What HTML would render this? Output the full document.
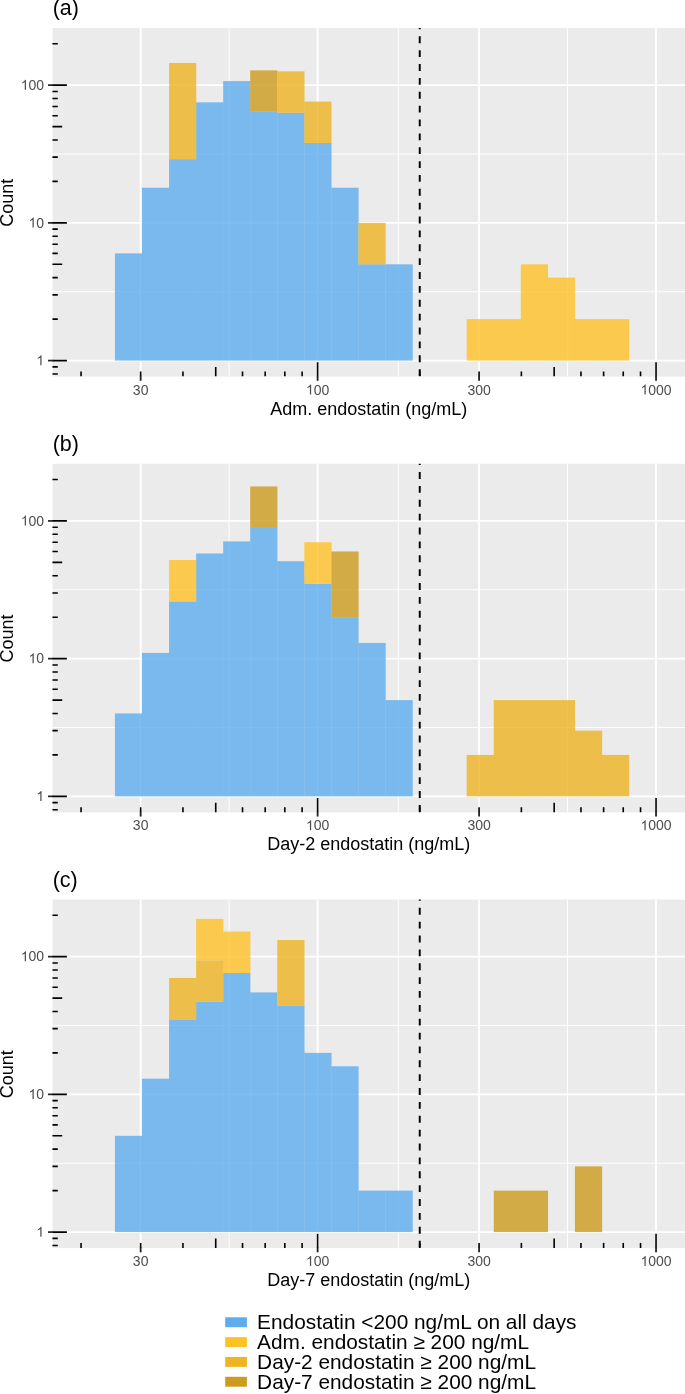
<!DOCTYPE html>
<html><head><meta charset="utf-8"><title>Endostatin histograms</title>
<style>html,body{margin:0;padding:0;background:#fff}body{width:685px;height:1394px;overflow:hidden;font-family:"Liberation Sans",sans-serif}</style>
</head><body>
<svg width="685" height="1394" viewBox="0 0 685 1394" style="display:block;will-change:transform;font-family:'Liberation Sans',sans-serif">
<rect width="685" height="1394" fill="#fff"/>
<defs>
<clipPath id="c0"><rect x="52.2" y="28.00" width="632.8" height="348.60"/></clipPath>
<clipPath id="c1"><rect x="52.2" y="463.78" width="632.8" height="348.60"/></clipPath>
<clipPath id="c2"><rect x="52.2" y="899.50" width="632.8" height="348.60"/></clipPath>
</defs>
<rect x="52.6" y="28.00" width="632.4" height="348.60" fill="#EBEBEB"/>
<g clip-path="url(#c0)">
<line x1="52.6" x2="685.0" y1="291.72" y2="291.72" stroke="#fff" stroke-width="0.95"/>
<line x1="52.6" x2="685.0" y1="154.00" y2="154.00" stroke="#fff" stroke-width="0.95"/>
<line y1="28.00" y2="376.60" x1="229.13" x2="229.13" stroke="#fff" stroke-width="0.95"/>
<line y1="28.00" y2="376.60" x1="398.35" x2="398.35" stroke="#fff" stroke-width="0.95"/>
<line y1="28.00" y2="376.60" x1="567.56" x2="567.56" stroke="#fff" stroke-width="0.95"/>
<line x1="52.6" x2="685.0" y1="360.58" y2="360.58" stroke="#fff" stroke-width="1.8"/>
<line x1="52.6" x2="685.0" y1="222.86" y2="222.86" stroke="#fff" stroke-width="1.8"/>
<line x1="52.6" x2="685.0" y1="85.14" y2="85.14" stroke="#fff" stroke-width="1.8"/>
<line y1="28.00" y2="376.60" x1="140.65" x2="140.65" stroke="#fff" stroke-width="1.8"/>
<line y1="28.00" y2="376.60" x1="317.61" x2="317.61" stroke="#fff" stroke-width="1.8"/>
<line y1="28.00" y2="376.60" x1="479.08" x2="479.08" stroke="#fff" stroke-width="1.8"/>
<line y1="28.00" y2="376.60" x1="656.04" x2="656.04" stroke="#fff" stroke-width="1.8"/>
<rect x="114.92" y="253.41" width="27.22" height="107.17" fill="#5CACEE" fill-opacity="0.8"/>
<rect x="141.98" y="187.70" width="27.22" height="172.88" fill="#5CACEE" fill-opacity="0.8"/>
<rect x="169.04" y="159.18" width="27.22" height="201.40" fill="#5CACEE" fill-opacity="0.8"/>
<rect x="196.10" y="102.35" width="27.22" height="258.23" fill="#5CACEE" fill-opacity="0.8"/>
<rect x="223.16" y="81.09" width="27.22" height="279.49" fill="#5CACEE" fill-opacity="0.8"/>
<rect x="250.22" y="111.83" width="27.22" height="248.75" fill="#5CACEE" fill-opacity="0.8"/>
<rect x="277.28" y="112.77" width="27.22" height="247.81" fill="#5CACEE" fill-opacity="0.8"/>
<rect x="304.34" y="143.01" width="27.22" height="217.57" fill="#5CACEE" fill-opacity="0.8"/>
<rect x="331.40" y="187.70" width="27.22" height="172.88" fill="#5CACEE" fill-opacity="0.8"/>
<rect x="358.46" y="264.32" width="27.22" height="96.26" fill="#5CACEE" fill-opacity="0.8"/>
<rect x="385.52" y="264.32" width="27.22" height="96.26" fill="#5CACEE" fill-opacity="0.8"/>
<rect x="169.04" y="62.92" width="27.22" height="96.26" fill="#EEB422" fill-opacity="0.8"/>
<rect x="250.22" y="70.38" width="27.22" height="41.46" fill="#CD9B1D" fill-opacity="0.8"/>
<rect x="277.28" y="71.32" width="27.22" height="41.46" fill="#EEB422" fill-opacity="0.8"/>
<rect x="304.34" y="101.55" width="27.22" height="41.46" fill="#EEB422" fill-opacity="0.8"/>
<rect x="358.46" y="222.86" width="27.22" height="41.46" fill="#EEB422" fill-opacity="0.8"/>
<rect x="466.70" y="319.12" width="27.22" height="41.46" fill="#FFC125" fill-opacity="0.8"/>
<rect x="493.76" y="319.12" width="27.22" height="41.46" fill="#FFC125" fill-opacity="0.8"/>
<rect x="520.82" y="264.32" width="27.22" height="96.26" fill="#FFC125" fill-opacity="0.8"/>
<rect x="547.88" y="277.66" width="27.22" height="82.92" fill="#FFC125" fill-opacity="0.8"/>
<rect x="574.94" y="319.12" width="27.22" height="41.46" fill="#FFC125" fill-opacity="0.8"/>
<rect x="602.00" y="319.12" width="27.22" height="41.46" fill="#FFC125" fill-opacity="0.8"/>
<line x1="419.74" x2="419.74" y1="22.43" y2="378.60" stroke="#000" stroke-width="1.95" stroke-dasharray="6.85 7.02"/>
<line x1="52.300000000000004" x2="57.80" y1="373.93" y2="373.93" stroke="#000" stroke-width="1.6"/>
<line x1="52.300000000000004" x2="57.80" y1="366.88" y2="366.88" stroke="#000" stroke-width="1.6"/>
<line x1="52.300000000000004" x2="66.90" y1="360.58" y2="360.58" stroke="#000" stroke-width="1.6"/>
<line x1="52.300000000000004" x2="57.80" y1="319.12" y2="319.12" stroke="#000" stroke-width="1.6"/>
<line x1="52.300000000000004" x2="57.80" y1="294.87" y2="294.87" stroke="#000" stroke-width="1.6"/>
<line x1="52.300000000000004" x2="57.80" y1="277.66" y2="277.66" stroke="#000" stroke-width="1.6"/>
<line x1="52.300000000000004" x2="62.20" y1="264.32" y2="264.32" stroke="#000" stroke-width="1.6"/>
<line x1="52.300000000000004" x2="57.80" y1="253.41" y2="253.41" stroke="#000" stroke-width="1.6"/>
<line x1="52.300000000000004" x2="57.80" y1="244.19" y2="244.19" stroke="#000" stroke-width="1.6"/>
<line x1="52.300000000000004" x2="57.80" y1="236.21" y2="236.21" stroke="#000" stroke-width="1.6"/>
<line x1="52.300000000000004" x2="57.80" y1="229.16" y2="229.16" stroke="#000" stroke-width="1.6"/>
<line x1="52.300000000000004" x2="66.90" y1="222.86" y2="222.86" stroke="#000" stroke-width="1.6"/>
<line x1="52.300000000000004" x2="57.80" y1="181.40" y2="181.40" stroke="#000" stroke-width="1.6"/>
<line x1="52.300000000000004" x2="57.80" y1="157.15" y2="157.15" stroke="#000" stroke-width="1.6"/>
<line x1="52.300000000000004" x2="57.80" y1="139.94" y2="139.94" stroke="#000" stroke-width="1.6"/>
<line x1="52.300000000000004" x2="62.20" y1="126.60" y2="126.60" stroke="#000" stroke-width="1.6"/>
<line x1="52.300000000000004" x2="57.80" y1="115.69" y2="115.69" stroke="#000" stroke-width="1.6"/>
<line x1="52.300000000000004" x2="57.80" y1="106.47" y2="106.47" stroke="#000" stroke-width="1.6"/>
<line x1="52.300000000000004" x2="57.80" y1="98.49" y2="98.49" stroke="#000" stroke-width="1.6"/>
<line x1="52.300000000000004" x2="57.80" y1="91.44" y2="91.44" stroke="#000" stroke-width="1.6"/>
<line x1="52.300000000000004" x2="66.90" y1="85.14" y2="85.14" stroke="#000" stroke-width="1.6"/>
<line x1="52.300000000000004" x2="57.80" y1="43.68" y2="43.68" stroke="#000" stroke-width="1.6"/>
<line y1="376.60" y2="371.40" x1="81.06" x2="81.06" stroke="#000" stroke-width="1.6"/>
<line y1="376.60" y2="371.40" x1="140.65" x2="140.65" stroke="#000" stroke-width="1.6"/>
<line y1="376.60" y2="371.40" x1="182.94" x2="182.94" stroke="#000" stroke-width="1.6"/>
<line y1="376.60" y2="367.00" x1="215.73" x2="215.73" stroke="#000" stroke-width="1.6"/>
<line y1="376.60" y2="371.40" x1="242.53" x2="242.53" stroke="#000" stroke-width="1.6"/>
<line y1="376.60" y2="371.40" x1="265.19" x2="265.19" stroke="#000" stroke-width="1.6"/>
<line y1="376.60" y2="371.40" x1="284.81" x2="284.81" stroke="#000" stroke-width="1.6"/>
<line y1="376.60" y2="371.40" x1="302.12" x2="302.12" stroke="#000" stroke-width="1.6"/>
<line y1="376.60" y2="362.30" x1="317.61" x2="317.61" stroke="#000" stroke-width="1.6"/>
<line y1="376.60" y2="371.40" x1="419.74" x2="419.74" stroke="#000" stroke-width="1.6"/>
<line y1="376.60" y2="371.40" x1="479.08" x2="479.08" stroke="#000" stroke-width="1.6"/>
<line y1="376.60" y2="371.40" x1="521.37" x2="521.37" stroke="#000" stroke-width="1.6"/>
<line y1="376.60" y2="367.00" x1="554.16" x2="554.16" stroke="#000" stroke-width="1.6"/>
<line y1="376.60" y2="371.40" x1="580.96" x2="580.96" stroke="#000" stroke-width="1.6"/>
<line y1="376.60" y2="371.40" x1="603.62" x2="603.62" stroke="#000" stroke-width="1.6"/>
<line y1="376.60" y2="371.40" x1="623.24" x2="623.24" stroke="#000" stroke-width="1.6"/>
<line y1="376.60" y2="371.40" x1="640.55" x2="640.55" stroke="#000" stroke-width="1.6"/>
<line y1="376.60" y2="362.30" x1="656.04" x2="656.04" stroke="#000" stroke-width="1.6"/>
</g>
<line x1="48.0" x2="53.2" y1="360.58" y2="360.58" stroke="#222" stroke-width="1.7"/>
<path transform="translate(36.31 365.28) scale(0.00684 -0.00684)" d="M763 0H583V1147Q518 1085 412.5 1023Q307 961 223 930V1104Q374 1175 487 1276Q600 1377 647 1472H763Z" fill="#4D4D4D"/>
<line x1="48.0" x2="53.2" y1="222.86" y2="222.86" stroke="#222" stroke-width="1.7"/>
<path transform="translate(28.53 227.56) scale(0.00684 -0.00684)" d="M763 0H583V1147Q518 1085 412.5 1023Q307 961 223 930V1104Q374 1175 487 1276Q600 1377 647 1472H763Z" fill="#4D4D4D"/><text x="36.31" y="227.56" font-size="14.0" fill="#4D4D4D">0</text>
<line x1="48.0" x2="53.2" y1="85.14" y2="85.14" stroke="#222" stroke-width="1.7"/>
<path transform="translate(20.74 89.84) scale(0.00684 -0.00684)" d="M763 0H583V1147Q518 1085 412.5 1023Q307 961 223 930V1104Q374 1175 487 1276Q600 1377 647 1472H763Z" fill="#4D4D4D"/><text x="28.53" y="89.84" font-size="14.0" fill="#4D4D4D">0</text><text x="36.31" y="89.84" font-size="14.0" fill="#4D4D4D">0</text>
<line y1="376.00" y2="380.80" x1="140.65" x2="140.65" stroke="#222" stroke-width="1.8"/>
<text x="132.87" y="394.55" font-size="14.0" fill="#4D4D4D">3</text><text x="140.65" y="394.55" font-size="14.0" fill="#4D4D4D">0</text>
<line y1="376.00" y2="380.80" x1="317.61" x2="317.61" stroke="#222" stroke-width="1.8"/>
<path transform="translate(305.93 394.55) scale(0.00684 -0.00684)" d="M763 0H583V1147Q518 1085 412.5 1023Q307 961 223 930V1104Q374 1175 487 1276Q600 1377 647 1472H763Z" fill="#4D4D4D"/><text x="313.72" y="394.55" font-size="14.0" fill="#4D4D4D">0</text><text x="321.50" y="394.55" font-size="14.0" fill="#4D4D4D">0</text>
<line y1="376.00" y2="380.80" x1="479.08" x2="479.08" stroke="#222" stroke-width="1.8"/>
<text x="467.40" y="394.55" font-size="14.0" fill="#4D4D4D">3</text><text x="475.19" y="394.55" font-size="14.0" fill="#4D4D4D">0</text><text x="482.98" y="394.55" font-size="14.0" fill="#4D4D4D">0</text>
<line y1="376.00" y2="380.80" x1="656.04" x2="656.04" stroke="#222" stroke-width="1.8"/>
<path transform="translate(640.47 394.55) scale(0.00684 -0.00684)" d="M763 0H583V1147Q518 1085 412.5 1023Q307 961 223 930V1104Q374 1175 487 1276Q600 1377 647 1472H763Z" fill="#4D4D4D"/><text x="648.25" y="394.55" font-size="14.0" fill="#4D4D4D">0</text><text x="656.04" y="394.55" font-size="14.0" fill="#4D4D4D">0</text><text x="663.83" y="394.55" font-size="14.0" fill="#4D4D4D">0</text>
<text x="368.80" y="414.50" font-size="18.0" fill="#000" text-anchor="middle">Adm. endostatin (ng/mL)</text>
<text transform="translate(13.1 202.75) rotate(-90)" font-size="18.0" fill="#000" text-anchor="middle">Count</text>
<text x="52.7" y="15.25" font-size="21.5" fill="#000">(a)</text>
<rect x="52.6" y="463.78" width="632.4" height="348.60" fill="#EBEBEB"/>
<g clip-path="url(#c1)">
<line x1="52.6" x2="685.0" y1="727.50" y2="727.50" stroke="#fff" stroke-width="0.95"/>
<line x1="52.6" x2="685.0" y1="589.78" y2="589.78" stroke="#fff" stroke-width="0.95"/>
<line y1="463.78" y2="812.38" x1="229.13" x2="229.13" stroke="#fff" stroke-width="0.95"/>
<line y1="463.78" y2="812.38" x1="398.35" x2="398.35" stroke="#fff" stroke-width="0.95"/>
<line y1="463.78" y2="812.38" x1="567.56" x2="567.56" stroke="#fff" stroke-width="0.95"/>
<line x1="52.6" x2="685.0" y1="796.36" y2="796.36" stroke="#fff" stroke-width="1.8"/>
<line x1="52.6" x2="685.0" y1="658.64" y2="658.64" stroke="#fff" stroke-width="1.8"/>
<line x1="52.6" x2="685.0" y1="520.92" y2="520.92" stroke="#fff" stroke-width="1.8"/>
<line y1="463.78" y2="812.38" x1="140.65" x2="140.65" stroke="#fff" stroke-width="1.8"/>
<line y1="463.78" y2="812.38" x1="317.61" x2="317.61" stroke="#fff" stroke-width="1.8"/>
<line y1="463.78" y2="812.38" x1="479.08" x2="479.08" stroke="#fff" stroke-width="1.8"/>
<line y1="463.78" y2="812.38" x1="656.04" x2="656.04" stroke="#fff" stroke-width="1.8"/>
<rect x="114.92" y="713.44" width="27.22" height="82.92" fill="#5CACEE" fill-opacity="0.8"/>
<rect x="141.98" y="652.94" width="27.22" height="143.42" fill="#5CACEE" fill-opacity="0.8"/>
<rect x="169.04" y="601.49" width="27.22" height="194.87" fill="#5CACEE" fill-opacity="0.8"/>
<rect x="196.10" y="553.50" width="27.22" height="242.86" fill="#5CACEE" fill-opacity="0.8"/>
<rect x="223.16" y="541.40" width="27.22" height="254.96" fill="#5CACEE" fill-opacity="0.8"/>
<rect x="250.22" y="527.89" width="27.22" height="268.47" fill="#5CACEE" fill-opacity="0.8"/>
<rect x="277.28" y="561.19" width="27.22" height="235.17" fill="#5CACEE" fill-opacity="0.8"/>
<rect x="304.34" y="583.71" width="27.22" height="212.65" fill="#5CACEE" fill-opacity="0.8"/>
<rect x="331.40" y="617.18" width="27.22" height="179.18" fill="#5CACEE" fill-opacity="0.8"/>
<rect x="358.46" y="642.95" width="27.22" height="153.41" fill="#5CACEE" fill-opacity="0.8"/>
<rect x="385.52" y="700.10" width="27.22" height="96.26" fill="#5CACEE" fill-opacity="0.8"/>
<rect x="169.04" y="560.03" width="27.22" height="41.46" fill="#FFC125" fill-opacity="0.8"/>
<rect x="250.22" y="486.43" width="27.22" height="41.46" fill="#CD9B1D" fill-opacity="0.8"/>
<rect x="304.34" y="542.25" width="27.22" height="41.46" fill="#FFC125" fill-opacity="0.8"/>
<rect x="331.40" y="551.47" width="27.22" height="65.71" fill="#CD9B1D" fill-opacity="0.8"/>
<rect x="466.70" y="754.90" width="27.22" height="41.46" fill="#EEB422" fill-opacity="0.8"/>
<rect x="493.76" y="700.10" width="27.22" height="96.26" fill="#EEB422" fill-opacity="0.8"/>
<rect x="520.82" y="700.10" width="27.22" height="96.26" fill="#EEB422" fill-opacity="0.8"/>
<rect x="547.88" y="700.10" width="27.22" height="96.26" fill="#EEB422" fill-opacity="0.8"/>
<rect x="574.94" y="730.65" width="27.22" height="65.71" fill="#EEB422" fill-opacity="0.8"/>
<rect x="602.00" y="754.90" width="27.22" height="41.46" fill="#EEB422" fill-opacity="0.8"/>
<line x1="419.74" x2="419.74" y1="458.21" y2="814.38" stroke="#000" stroke-width="1.95" stroke-dasharray="6.85 7.02"/>
<line x1="52.300000000000004" x2="57.80" y1="809.71" y2="809.71" stroke="#000" stroke-width="1.6"/>
<line x1="52.300000000000004" x2="57.80" y1="802.66" y2="802.66" stroke="#000" stroke-width="1.6"/>
<line x1="52.300000000000004" x2="66.90" y1="796.36" y2="796.36" stroke="#000" stroke-width="1.6"/>
<line x1="52.300000000000004" x2="57.80" y1="754.90" y2="754.90" stroke="#000" stroke-width="1.6"/>
<line x1="52.300000000000004" x2="57.80" y1="730.65" y2="730.65" stroke="#000" stroke-width="1.6"/>
<line x1="52.300000000000004" x2="57.80" y1="713.44" y2="713.44" stroke="#000" stroke-width="1.6"/>
<line x1="52.300000000000004" x2="62.20" y1="700.10" y2="700.10" stroke="#000" stroke-width="1.6"/>
<line x1="52.300000000000004" x2="57.80" y1="689.19" y2="689.19" stroke="#000" stroke-width="1.6"/>
<line x1="52.300000000000004" x2="57.80" y1="679.97" y2="679.97" stroke="#000" stroke-width="1.6"/>
<line x1="52.300000000000004" x2="57.80" y1="671.99" y2="671.99" stroke="#000" stroke-width="1.6"/>
<line x1="52.300000000000004" x2="57.80" y1="664.94" y2="664.94" stroke="#000" stroke-width="1.6"/>
<line x1="52.300000000000004" x2="66.90" y1="658.64" y2="658.64" stroke="#000" stroke-width="1.6"/>
<line x1="52.300000000000004" x2="57.80" y1="617.18" y2="617.18" stroke="#000" stroke-width="1.6"/>
<line x1="52.300000000000004" x2="57.80" y1="592.93" y2="592.93" stroke="#000" stroke-width="1.6"/>
<line x1="52.300000000000004" x2="57.80" y1="575.72" y2="575.72" stroke="#000" stroke-width="1.6"/>
<line x1="52.300000000000004" x2="62.20" y1="562.38" y2="562.38" stroke="#000" stroke-width="1.6"/>
<line x1="52.300000000000004" x2="57.80" y1="551.47" y2="551.47" stroke="#000" stroke-width="1.6"/>
<line x1="52.300000000000004" x2="57.80" y1="542.25" y2="542.25" stroke="#000" stroke-width="1.6"/>
<line x1="52.300000000000004" x2="57.80" y1="534.27" y2="534.27" stroke="#000" stroke-width="1.6"/>
<line x1="52.300000000000004" x2="57.80" y1="527.22" y2="527.22" stroke="#000" stroke-width="1.6"/>
<line x1="52.300000000000004" x2="66.90" y1="520.92" y2="520.92" stroke="#000" stroke-width="1.6"/>
<line x1="52.300000000000004" x2="57.80" y1="479.46" y2="479.46" stroke="#000" stroke-width="1.6"/>
<line y1="812.38" y2="807.18" x1="81.06" x2="81.06" stroke="#000" stroke-width="1.6"/>
<line y1="812.38" y2="807.18" x1="140.65" x2="140.65" stroke="#000" stroke-width="1.6"/>
<line y1="812.38" y2="807.18" x1="182.94" x2="182.94" stroke="#000" stroke-width="1.6"/>
<line y1="812.38" y2="802.78" x1="215.73" x2="215.73" stroke="#000" stroke-width="1.6"/>
<line y1="812.38" y2="807.18" x1="242.53" x2="242.53" stroke="#000" stroke-width="1.6"/>
<line y1="812.38" y2="807.18" x1="265.19" x2="265.19" stroke="#000" stroke-width="1.6"/>
<line y1="812.38" y2="807.18" x1="284.81" x2="284.81" stroke="#000" stroke-width="1.6"/>
<line y1="812.38" y2="807.18" x1="302.12" x2="302.12" stroke="#000" stroke-width="1.6"/>
<line y1="812.38" y2="798.08" x1="317.61" x2="317.61" stroke="#000" stroke-width="1.6"/>
<line y1="812.38" y2="807.18" x1="419.74" x2="419.74" stroke="#000" stroke-width="1.6"/>
<line y1="812.38" y2="807.18" x1="479.08" x2="479.08" stroke="#000" stroke-width="1.6"/>
<line y1="812.38" y2="807.18" x1="521.37" x2="521.37" stroke="#000" stroke-width="1.6"/>
<line y1="812.38" y2="802.78" x1="554.16" x2="554.16" stroke="#000" stroke-width="1.6"/>
<line y1="812.38" y2="807.18" x1="580.96" x2="580.96" stroke="#000" stroke-width="1.6"/>
<line y1="812.38" y2="807.18" x1="603.62" x2="603.62" stroke="#000" stroke-width="1.6"/>
<line y1="812.38" y2="807.18" x1="623.24" x2="623.24" stroke="#000" stroke-width="1.6"/>
<line y1="812.38" y2="807.18" x1="640.55" x2="640.55" stroke="#000" stroke-width="1.6"/>
<line y1="812.38" y2="798.08" x1="656.04" x2="656.04" stroke="#000" stroke-width="1.6"/>
</g>
<line x1="48.0" x2="53.2" y1="796.36" y2="796.36" stroke="#222" stroke-width="1.7"/>
<path transform="translate(36.31 801.06) scale(0.00684 -0.00684)" d="M763 0H583V1147Q518 1085 412.5 1023Q307 961 223 930V1104Q374 1175 487 1276Q600 1377 647 1472H763Z" fill="#4D4D4D"/>
<line x1="48.0" x2="53.2" y1="658.64" y2="658.64" stroke="#222" stroke-width="1.7"/>
<path transform="translate(28.53 663.34) scale(0.00684 -0.00684)" d="M763 0H583V1147Q518 1085 412.5 1023Q307 961 223 930V1104Q374 1175 487 1276Q600 1377 647 1472H763Z" fill="#4D4D4D"/><text x="36.31" y="663.34" font-size="14.0" fill="#4D4D4D">0</text>
<line x1="48.0" x2="53.2" y1="520.92" y2="520.92" stroke="#222" stroke-width="1.7"/>
<path transform="translate(20.74 525.62) scale(0.00684 -0.00684)" d="M763 0H583V1147Q518 1085 412.5 1023Q307 961 223 930V1104Q374 1175 487 1276Q600 1377 647 1472H763Z" fill="#4D4D4D"/><text x="28.53" y="525.62" font-size="14.0" fill="#4D4D4D">0</text><text x="36.31" y="525.62" font-size="14.0" fill="#4D4D4D">0</text>
<line y1="811.78" y2="816.58" x1="140.65" x2="140.65" stroke="#222" stroke-width="1.8"/>
<text x="132.87" y="830.33" font-size="14.0" fill="#4D4D4D">3</text><text x="140.65" y="830.33" font-size="14.0" fill="#4D4D4D">0</text>
<line y1="811.78" y2="816.58" x1="317.61" x2="317.61" stroke="#222" stroke-width="1.8"/>
<path transform="translate(305.93 830.33) scale(0.00684 -0.00684)" d="M763 0H583V1147Q518 1085 412.5 1023Q307 961 223 930V1104Q374 1175 487 1276Q600 1377 647 1472H763Z" fill="#4D4D4D"/><text x="313.72" y="830.33" font-size="14.0" fill="#4D4D4D">0</text><text x="321.50" y="830.33" font-size="14.0" fill="#4D4D4D">0</text>
<line y1="811.78" y2="816.58" x1="479.08" x2="479.08" stroke="#222" stroke-width="1.8"/>
<text x="467.40" y="830.33" font-size="14.0" fill="#4D4D4D">3</text><text x="475.19" y="830.33" font-size="14.0" fill="#4D4D4D">0</text><text x="482.98" y="830.33" font-size="14.0" fill="#4D4D4D">0</text>
<line y1="811.78" y2="816.58" x1="656.04" x2="656.04" stroke="#222" stroke-width="1.8"/>
<path transform="translate(640.47 830.33) scale(0.00684 -0.00684)" d="M763 0H583V1147Q518 1085 412.5 1023Q307 961 223 930V1104Q374 1175 487 1276Q600 1377 647 1472H763Z" fill="#4D4D4D"/><text x="648.25" y="830.33" font-size="14.0" fill="#4D4D4D">0</text><text x="656.04" y="830.33" font-size="14.0" fill="#4D4D4D">0</text><text x="663.83" y="830.33" font-size="14.0" fill="#4D4D4D">0</text>
<text x="368.80" y="850.28" font-size="18.0" fill="#000" text-anchor="middle">Day-2 endostatin (ng/mL)</text>
<text transform="translate(13.1 638.53) rotate(-90)" font-size="18.0" fill="#000" text-anchor="middle">Count</text>
<text x="52.7" y="451.03" font-size="21.5" fill="#000">(b)</text>
<rect x="52.6" y="899.50" width="632.4" height="348.60" fill="#EBEBEB"/>
<g clip-path="url(#c2)">
<line x1="52.6" x2="685.0" y1="1163.22" y2="1163.22" stroke="#fff" stroke-width="0.95"/>
<line x1="52.6" x2="685.0" y1="1025.50" y2="1025.50" stroke="#fff" stroke-width="0.95"/>
<line y1="899.50" y2="1248.10" x1="229.13" x2="229.13" stroke="#fff" stroke-width="0.95"/>
<line y1="899.50" y2="1248.10" x1="398.35" x2="398.35" stroke="#fff" stroke-width="0.95"/>
<line y1="899.50" y2="1248.10" x1="567.56" x2="567.56" stroke="#fff" stroke-width="0.95"/>
<line x1="52.6" x2="685.0" y1="1232.08" y2="1232.08" stroke="#fff" stroke-width="1.8"/>
<line x1="52.6" x2="685.0" y1="1094.36" y2="1094.36" stroke="#fff" stroke-width="1.8"/>
<line x1="52.6" x2="685.0" y1="956.64" y2="956.64" stroke="#fff" stroke-width="1.8"/>
<line y1="899.50" y2="1248.10" x1="140.65" x2="140.65" stroke="#fff" stroke-width="1.8"/>
<line y1="899.50" y2="1248.10" x1="317.61" x2="317.61" stroke="#fff" stroke-width="1.8"/>
<line y1="899.50" y2="1248.10" x1="479.08" x2="479.08" stroke="#fff" stroke-width="1.8"/>
<line y1="899.50" y2="1248.10" x1="656.04" x2="656.04" stroke="#fff" stroke-width="1.8"/>
<rect x="114.92" y="1135.82" width="27.22" height="96.26" fill="#5CACEE" fill-opacity="0.8"/>
<rect x="141.98" y="1078.67" width="27.22" height="153.41" fill="#5CACEE" fill-opacity="0.8"/>
<rect x="169.04" y="1019.43" width="27.22" height="212.65" fill="#5CACEE" fill-opacity="0.8"/>
<rect x="196.10" y="1001.80" width="27.22" height="230.28" fill="#5CACEE" fill-opacity="0.8"/>
<rect x="223.16" y="973.05" width="27.22" height="259.03" fill="#5CACEE" fill-opacity="0.8"/>
<rect x="250.22" y="992.40" width="27.22" height="239.68" fill="#5CACEE" fill-opacity="0.8"/>
<rect x="277.28" y="1005.74" width="27.22" height="226.34" fill="#5CACEE" fill-opacity="0.8"/>
<rect x="304.34" y="1052.90" width="27.22" height="179.18" fill="#5CACEE" fill-opacity="0.8"/>
<rect x="331.40" y="1066.25" width="27.22" height="165.83" fill="#5CACEE" fill-opacity="0.8"/>
<rect x="358.46" y="1190.62" width="27.22" height="41.46" fill="#5CACEE" fill-opacity="0.8"/>
<rect x="385.52" y="1190.62" width="27.22" height="41.46" fill="#5CACEE" fill-opacity="0.8"/>
<rect x="169.04" y="977.97" width="27.22" height="41.46" fill="#EEB422" fill-opacity="0.8"/>
<rect x="196.10" y="960.34" width="27.22" height="41.46" fill="#EEB422" fill-opacity="0.8"/>
<rect x="196.10" y="918.88" width="27.22" height="41.46" fill="#FFC125" fill-opacity="0.8"/>
<rect x="223.16" y="931.60" width="27.22" height="41.46" fill="#FFC125" fill-opacity="0.8"/>
<rect x="277.28" y="940.03" width="27.22" height="65.71" fill="#EEB422" fill-opacity="0.8"/>
<rect x="493.76" y="1190.62" width="27.22" height="41.46" fill="#CD9B1D" fill-opacity="0.8"/>
<rect x="520.82" y="1190.62" width="27.22" height="41.46" fill="#CD9B1D" fill-opacity="0.8"/>
<rect x="574.94" y="1166.37" width="27.22" height="65.71" fill="#CD9B1D" fill-opacity="0.8"/>
<line x1="419.74" x2="419.74" y1="893.93" y2="1250.10" stroke="#000" stroke-width="1.95" stroke-dasharray="6.85 7.02"/>
<line x1="52.300000000000004" x2="57.80" y1="1245.43" y2="1245.43" stroke="#000" stroke-width="1.6"/>
<line x1="52.300000000000004" x2="57.80" y1="1238.38" y2="1238.38" stroke="#000" stroke-width="1.6"/>
<line x1="52.300000000000004" x2="66.90" y1="1232.08" y2="1232.08" stroke="#000" stroke-width="1.6"/>
<line x1="52.300000000000004" x2="57.80" y1="1190.62" y2="1190.62" stroke="#000" stroke-width="1.6"/>
<line x1="52.300000000000004" x2="57.80" y1="1166.37" y2="1166.37" stroke="#000" stroke-width="1.6"/>
<line x1="52.300000000000004" x2="57.80" y1="1149.16" y2="1149.16" stroke="#000" stroke-width="1.6"/>
<line x1="52.300000000000004" x2="62.20" y1="1135.82" y2="1135.82" stroke="#000" stroke-width="1.6"/>
<line x1="52.300000000000004" x2="57.80" y1="1124.91" y2="1124.91" stroke="#000" stroke-width="1.6"/>
<line x1="52.300000000000004" x2="57.80" y1="1115.69" y2="1115.69" stroke="#000" stroke-width="1.6"/>
<line x1="52.300000000000004" x2="57.80" y1="1107.71" y2="1107.71" stroke="#000" stroke-width="1.6"/>
<line x1="52.300000000000004" x2="57.80" y1="1100.66" y2="1100.66" stroke="#000" stroke-width="1.6"/>
<line x1="52.300000000000004" x2="66.90" y1="1094.36" y2="1094.36" stroke="#000" stroke-width="1.6"/>
<line x1="52.300000000000004" x2="57.80" y1="1052.90" y2="1052.90" stroke="#000" stroke-width="1.6"/>
<line x1="52.300000000000004" x2="57.80" y1="1028.65" y2="1028.65" stroke="#000" stroke-width="1.6"/>
<line x1="52.300000000000004" x2="57.80" y1="1011.44" y2="1011.44" stroke="#000" stroke-width="1.6"/>
<line x1="52.300000000000004" x2="62.20" y1="998.10" y2="998.10" stroke="#000" stroke-width="1.6"/>
<line x1="52.300000000000004" x2="57.80" y1="987.19" y2="987.19" stroke="#000" stroke-width="1.6"/>
<line x1="52.300000000000004" x2="57.80" y1="977.97" y2="977.97" stroke="#000" stroke-width="1.6"/>
<line x1="52.300000000000004" x2="57.80" y1="969.99" y2="969.99" stroke="#000" stroke-width="1.6"/>
<line x1="52.300000000000004" x2="57.80" y1="962.94" y2="962.94" stroke="#000" stroke-width="1.6"/>
<line x1="52.300000000000004" x2="66.90" y1="956.64" y2="956.64" stroke="#000" stroke-width="1.6"/>
<line x1="52.300000000000004" x2="57.80" y1="915.18" y2="915.18" stroke="#000" stroke-width="1.6"/>
<line y1="1248.10" y2="1242.90" x1="81.06" x2="81.06" stroke="#000" stroke-width="1.6"/>
<line y1="1248.10" y2="1242.90" x1="140.65" x2="140.65" stroke="#000" stroke-width="1.6"/>
<line y1="1248.10" y2="1242.90" x1="182.94" x2="182.94" stroke="#000" stroke-width="1.6"/>
<line y1="1248.10" y2="1238.50" x1="215.73" x2="215.73" stroke="#000" stroke-width="1.6"/>
<line y1="1248.10" y2="1242.90" x1="242.53" x2="242.53" stroke="#000" stroke-width="1.6"/>
<line y1="1248.10" y2="1242.90" x1="265.19" x2="265.19" stroke="#000" stroke-width="1.6"/>
<line y1="1248.10" y2="1242.90" x1="284.81" x2="284.81" stroke="#000" stroke-width="1.6"/>
<line y1="1248.10" y2="1242.90" x1="302.12" x2="302.12" stroke="#000" stroke-width="1.6"/>
<line y1="1248.10" y2="1233.80" x1="317.61" x2="317.61" stroke="#000" stroke-width="1.6"/>
<line y1="1248.10" y2="1242.90" x1="419.74" x2="419.74" stroke="#000" stroke-width="1.6"/>
<line y1="1248.10" y2="1242.90" x1="479.08" x2="479.08" stroke="#000" stroke-width="1.6"/>
<line y1="1248.10" y2="1242.90" x1="521.37" x2="521.37" stroke="#000" stroke-width="1.6"/>
<line y1="1248.10" y2="1238.50" x1="554.16" x2="554.16" stroke="#000" stroke-width="1.6"/>
<line y1="1248.10" y2="1242.90" x1="580.96" x2="580.96" stroke="#000" stroke-width="1.6"/>
<line y1="1248.10" y2="1242.90" x1="603.62" x2="603.62" stroke="#000" stroke-width="1.6"/>
<line y1="1248.10" y2="1242.90" x1="623.24" x2="623.24" stroke="#000" stroke-width="1.6"/>
<line y1="1248.10" y2="1242.90" x1="640.55" x2="640.55" stroke="#000" stroke-width="1.6"/>
<line y1="1248.10" y2="1233.80" x1="656.04" x2="656.04" stroke="#000" stroke-width="1.6"/>
</g>
<line x1="48.0" x2="53.2" y1="1232.08" y2="1232.08" stroke="#222" stroke-width="1.7"/>
<path transform="translate(36.31 1236.78) scale(0.00684 -0.00684)" d="M763 0H583V1147Q518 1085 412.5 1023Q307 961 223 930V1104Q374 1175 487 1276Q600 1377 647 1472H763Z" fill="#4D4D4D"/>
<line x1="48.0" x2="53.2" y1="1094.36" y2="1094.36" stroke="#222" stroke-width="1.7"/>
<path transform="translate(28.53 1099.06) scale(0.00684 -0.00684)" d="M763 0H583V1147Q518 1085 412.5 1023Q307 961 223 930V1104Q374 1175 487 1276Q600 1377 647 1472H763Z" fill="#4D4D4D"/><text x="36.31" y="1099.06" font-size="14.0" fill="#4D4D4D">0</text>
<line x1="48.0" x2="53.2" y1="956.64" y2="956.64" stroke="#222" stroke-width="1.7"/>
<path transform="translate(20.74 961.34) scale(0.00684 -0.00684)" d="M763 0H583V1147Q518 1085 412.5 1023Q307 961 223 930V1104Q374 1175 487 1276Q600 1377 647 1472H763Z" fill="#4D4D4D"/><text x="28.53" y="961.34" font-size="14.0" fill="#4D4D4D">0</text><text x="36.31" y="961.34" font-size="14.0" fill="#4D4D4D">0</text>
<line y1="1247.50" y2="1252.30" x1="140.65" x2="140.65" stroke="#222" stroke-width="1.8"/>
<text x="132.87" y="1266.05" font-size="14.0" fill="#4D4D4D">3</text><text x="140.65" y="1266.05" font-size="14.0" fill="#4D4D4D">0</text>
<line y1="1247.50" y2="1252.30" x1="317.61" x2="317.61" stroke="#222" stroke-width="1.8"/>
<path transform="translate(305.93 1266.05) scale(0.00684 -0.00684)" d="M763 0H583V1147Q518 1085 412.5 1023Q307 961 223 930V1104Q374 1175 487 1276Q600 1377 647 1472H763Z" fill="#4D4D4D"/><text x="313.72" y="1266.05" font-size="14.0" fill="#4D4D4D">0</text><text x="321.50" y="1266.05" font-size="14.0" fill="#4D4D4D">0</text>
<line y1="1247.50" y2="1252.30" x1="479.08" x2="479.08" stroke="#222" stroke-width="1.8"/>
<text x="467.40" y="1266.05" font-size="14.0" fill="#4D4D4D">3</text><text x="475.19" y="1266.05" font-size="14.0" fill="#4D4D4D">0</text><text x="482.98" y="1266.05" font-size="14.0" fill="#4D4D4D">0</text>
<line y1="1247.50" y2="1252.30" x1="656.04" x2="656.04" stroke="#222" stroke-width="1.8"/>
<path transform="translate(640.47 1266.05) scale(0.00684 -0.00684)" d="M763 0H583V1147Q518 1085 412.5 1023Q307 961 223 930V1104Q374 1175 487 1276Q600 1377 647 1472H763Z" fill="#4D4D4D"/><text x="648.25" y="1266.05" font-size="14.0" fill="#4D4D4D">0</text><text x="656.04" y="1266.05" font-size="14.0" fill="#4D4D4D">0</text><text x="663.83" y="1266.05" font-size="14.0" fill="#4D4D4D">0</text>
<text x="368.80" y="1286.00" font-size="18.0" fill="#000" text-anchor="middle">Day-7 endostatin (ng/mL)</text>
<text transform="translate(13.1 1074.25) rotate(-90)" font-size="18.0" fill="#000" text-anchor="middle">Count</text>
<text x="52.7" y="886.75" font-size="21.5" fill="#000">(c)</text>
<rect x="225.2" y="1317.30" width="21.7" height="9.9" fill="#5CACEE"/>
<text x="257.1" y="1329.20" font-size="20.83" fill="#000">Endostatin &lt;200 ng/mL on all days</text>
<rect x="225.2" y="1337.13" width="21.7" height="9.9" fill="#FFC125"/>
<text x="257.1" y="1349.00" font-size="20.83" fill="#000">Adm. endostatin ≥ 200 ng/mL</text>
<rect x="225.2" y="1356.96" width="21.7" height="9.9" fill="#EEB422"/>
<text x="257.1" y="1368.80" font-size="20.83" fill="#000">Day-2 endostatin ≥ 200 ng/mL</text>
<rect x="225.2" y="1376.79" width="21.7" height="9.9" fill="#CD9B1D"/>
<text x="257.1" y="1388.60" font-size="20.83" fill="#000">Day-7 endostatin ≥ 200 ng/mL</text>
</svg>
</body></html>
